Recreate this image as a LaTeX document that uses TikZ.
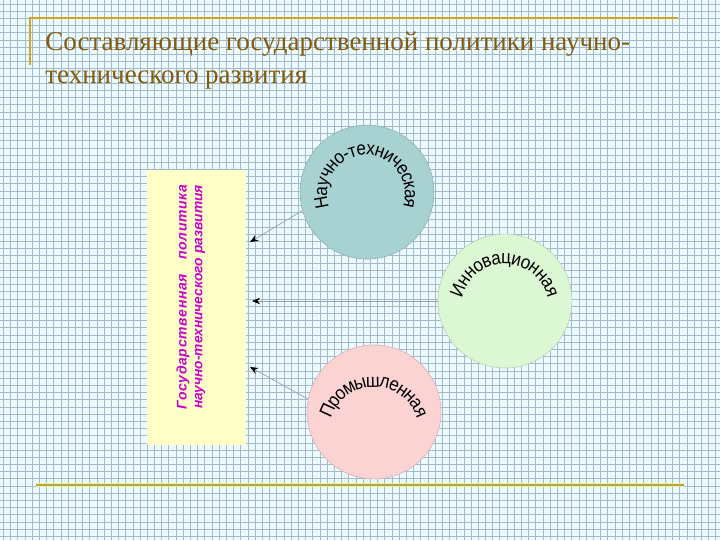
\documentclass[tikz,border=0pt]{standalone}
\usepackage{fontspec}
\setmainfont{Liberation Serif}
\newfontfamily\arcfont[FakeStretch=0.9]{Liberation Sans}
\newfontfamily\govfont{Liberation Sans}
\usetikzlibrary{arrows.meta,decorations.text}

\definecolor{paper}{RGB}{236,251,254}
\definecolor{gridblue}{RGB}{168,184,204}
\definecolor{framegold}{RGB}{210,166,36}
\definecolor{titlebrown}{RGB}{128,92,12}
\definecolor{ruleolive}{RGB}{176,168,70}
\definecolor{ruleglow}{RGB}{240,240,150}
\definecolor{boxyellow}{RGB}{255,255,200}
\definecolor{govmagenta}{RGB}{204,0,204}
\definecolor{techteal}{RGB}{168,210,210}
\definecolor{innogreen}{RGB}{220,247,212}
\definecolor{indpink}{RGB}{251,211,211}
\definecolor{feedgray}{RGB}{150,160,178}

\tikzset{
  gridline/.style={gridblue, line width=0.45pt},
  goldline/.style={framegold, line width=2.4pt},
  titletext/.style={titlebrown, inner sep=0pt, font=\fontsize{27}{27}\selectfont},
  govbox/.style={fill=boxyellow, draw=none, minimum width=99pt, minimum height=275pt},
  govtext/.style={govmagenta, inner sep=0pt, rotate=90},
  bubble/.style={circle, minimum size=134pt, inner sep=0pt, line width=0.6pt},
  feed/.style={feedgray, line width=0.7pt, -{Stealth[length=8pt,width=6.5pt,black]}},
  arclabel/.style={decorate, decoration={text along path, text align=fit to path, raise=-7pt,
      text={|\arcfont\fontsize{19}{19}\selectfont|#1}}}
}

\begin{document}
\begin{tikzpicture}[x=1pt,y=1pt]
  %%%%% BACKGROUND %%%%%
  \fill[paper] (0,0) rectangle (720,540);
  \foreach \i in {0,...,99}
    \draw[gridline] (3+7.2*\i,0) -- (3+7.2*\i,540);
  \foreach \j in {0,...,74}
    \draw[gridline] (0,3.6+7.2*\j) -- (720,3.6+7.2*\j);
  \useasboundingbox (0,0) rectangle (720,540);

  %%%%% TITLE %%%%%
  \draw[goldline] (30,475) -- (30,522) -- (678,522);
  \node[titletext, anchor=base west] (title1) at (45,490) {Составляющие государственной политики научно-};
  \node[titletext, anchor=base west] (title2) at (45,457) {технического развития};

  %%%%% POLICY BOX %%%%%
  \node[govbox] (gov) at (196.5,232.5) {};
  \node[govtext] (govA) at (183,243)
    {\govfont\bfseries\itshape\fontsize{14}{14}\selectfont\addfontfeature{LetterSpace=5}Государственная\quad политика};
  \node[govtext] (govB) at (200,243)
    {\govfont\bfseries\itshape\fontsize{13.8}{14}\selectfont научно-технического развития};

  %%%%% CIRCLES %%%%%
  \node[bubble, fill=techteal, draw=techteal!85!black] (tech) at (367,348) {};
  \node[bubble, fill=innogreen, draw=innogreen!85!black] (inno) at (505,239) {};
  \node[bubble, fill=indpink, draw=indpink!85!black] (ind) at (374,128) {};

  \path[arclabel={Научно-техническая}] (366,346) ++(198:46) arc (198:-18:46);
  \path[arclabel={Инновационная}] (505,232) ++(166:51) arc (166:14:51);
  \path[arclabel={Промышленная}] (374,108) ++(162:52) arc (162:18:52);

  %%%%% ARROWS %%%%%
  \coordinate (tipA) at (250,298);
  \coordinate (tipB) at (252,239);
  \coordinate (tipC) at (250,173);
  \draw[feed] (tech.196) -- (tipA);
  \draw[feed] (inno.west) -- (tipB);
  \draw[feed] (ind.169) -- (tipC);

  %%%%% BOTTOM RULE %%%%%
  \draw[ruleglow, line width=4pt] (36,55) -- (684,55);
  \draw[ruleolive, line width=1.6pt] (36,55) -- (684,55);
\end{tikzpicture}
\end{document}
